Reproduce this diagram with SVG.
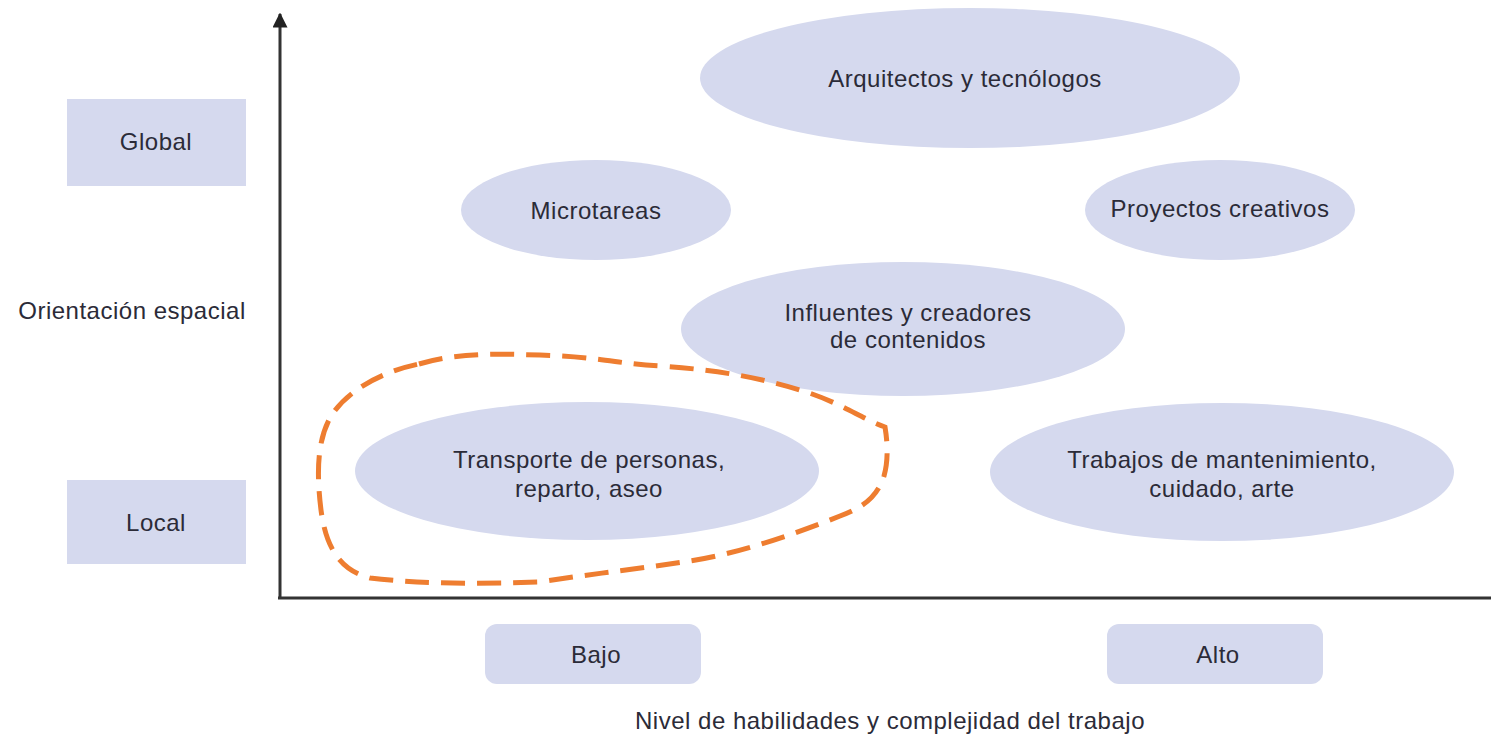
<svg xmlns="http://www.w3.org/2000/svg" width="1491" height="735" viewBox="0 0 1491 735">
<defs>
<style>
.n{fill:#d5d9ee;}
.t{font-family:"Liberation Sans",Arial,sans-serif;font-size:24px;letter-spacing:0.5px;fill:#2b2b38;text-anchor:middle;}
.ax{stroke:#333;stroke-width:3;fill:none;}
.hl{stroke:#ee7d30;stroke-width:5;fill:none;stroke-dasharray:24 12;}
</style>
<marker id="ah" viewBox="0 0 10 10" refX="9" refY="5" markerWidth="5" markerHeight="5" orient="auto" markerUnits="strokeWidth">
<path d="M0,0 L10,5 L0,10 z" fill="#222"/>
</marker>
</defs>
<rect width="1491" height="735" fill="#fff"/>
<g id="connectors">
<path class="ax" d="M280,598 L280,14" marker-end="url(#ah)"/>
<path class="ax" d="M278,598 L1491,598"/>
</g>
<g id="global"><rect class="n" x="67" y="99" width="179" height="87"/><text class="t" x="156" y="150">Global</text></g>
<g id="local"><rect class="n" x="67" y="480" width="179" height="84"/><text class="t" x="156" y="531">Local</text></g>
<g id="orientacion"><text class="t" x="132" y="319">Orientación espacial</text></g>
<g id="arquitectos"><ellipse class="n" cx="970" cy="78" rx="270" ry="70"/><text class="t" x="965" y="87">Arquitectos y tecnólogos</text></g>
<g id="microtareas"><ellipse class="n" cx="596" cy="210" rx="135" ry="50"/><text class="t" x="596" y="219">Microtareas</text></g>
<g id="proyectos"><ellipse class="n" cx="1220" cy="210" rx="135" ry="50"/><text class="t" x="1220" y="217">Proyectos creativos</text></g>
<g id="influentes"><ellipse class="n" cx="903" cy="329" rx="222" ry="67"/><text class="t" x="908" y="321">Influentes y creadores</text><text class="t" x="908" y="348">de contenidos</text></g>
<g id="transporte"><ellipse class="n" cx="587" cy="471" rx="232" ry="69"/><text class="t" x="589" y="468">Transporte de personas,</text><text class="t" x="589" y="497">reparto, aseo</text></g>
<g id="trabajos"><ellipse class="n" cx="1222" cy="472" rx="232" ry="69"/><text class="t" x="1222" y="468">Trabajos de mantenimiento,</text><text class="t" x="1222" y="497">cuidado, arte</text></g>
<g id="highlight"><path class="hl" d="M419,364 C460,352 500,354 540,355 C600,357 620,364 660,366 C720,370 760,378 800,390 C840,402 860,418 885,427 C888,445 888,462 884,476 C876,500 860,508 840,516 C790,536 730,556 683,562 C630,570 590,574 540,582 C480,584 420,584 370,578 C340,570 326,548 321,510 C316,470 318,440 330,418 C345,392 380,372 419,364 Z"/></g>
<g id="bajo"><rect class="n" x="485" y="624" width="216" height="60" rx="12"/><text class="t" x="596" y="663">Bajo</text></g>
<g id="alto"><rect class="n" x="1107" y="624" width="216" height="60" rx="12"/><text class="t" x="1218" y="663">Alto</text></g>
<g id="nivel"><text class="t" x="890" y="729">Nivel de habilidades y complejidad del trabajo</text></g>
</svg>
